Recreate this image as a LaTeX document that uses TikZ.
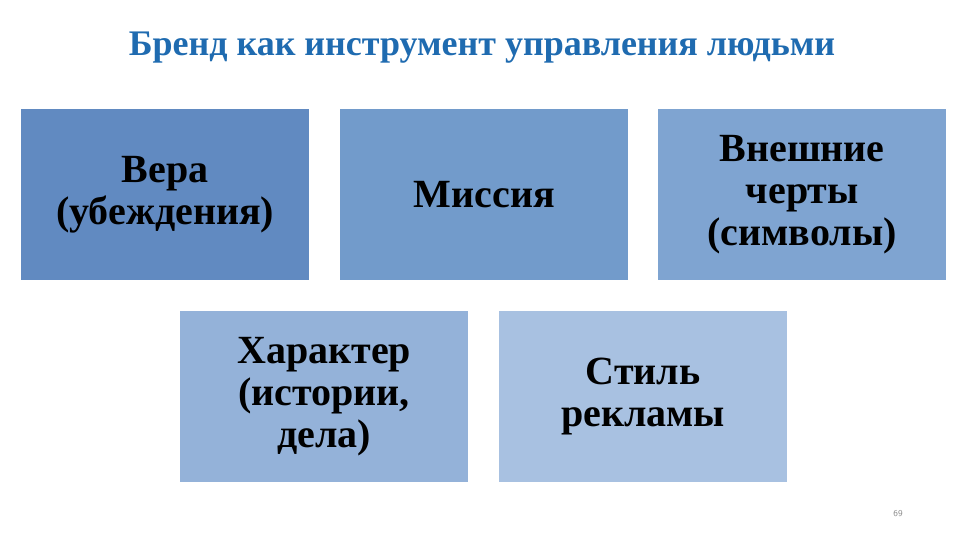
\documentclass[tikz,border=0pt]{standalone}
\usepackage{fontspec}
\setmainfont{Liberation Serif}
\begin{document}
\begin{tikzpicture}[x=1pt,y=-1pt,
 box/.style={anchor=north west,inner sep=0pt,minimum width=288pt,minimum height=171pt,align=center,font=\fontsize{40}{42}\selectfont\bfseries,text=black}]
\useasboundingbox (0,0) rectangle (960,540);
\node[anchor=center,text={rgb,255:red,31;green,107;blue,176},font=\fontsize{36}{40}\selectfont\bfseries] (t) at (482,48) {Бренд как инструмент управления людьми};
\node[box,fill={rgb,255:red,97;green,138;blue,193}] (a) at (21,109) {Вера\\(убеждения)};
\node[box,fill={rgb,255:red,114;green,155;blue,203}] (b) at (340,109) {Миссия};
\node[box,fill={rgb,255:red,127;green,164;blue,209}] (c) at (658,109) {Внешние\\черты\\(символы)};
\node[box,fill={rgb,255:red,148;green,178;blue,217}] (d) at (180,311) {Характер\\(истории,\\дела)};
\node[box,fill={rgb,255:red,168;green,193;blue,225}] (e) at (499,311) {Стиль\\рекламы};
\node[text={rgb,255:red,140;green,140;blue,140},font=\fontsize{9}{10}\selectfont\sffamily] (p) at (898,514) {69};
\end{tikzpicture}
\end{document}
